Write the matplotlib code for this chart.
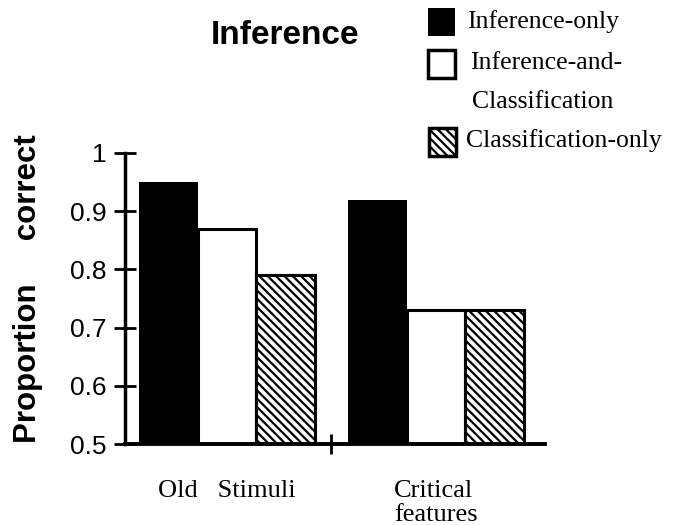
import matplotlib
matplotlib.use("Agg")
import matplotlib.pyplot as plt
from matplotlib.patches import Rectangle

# data
groups = ["Old   Stimuli", "Critical\nfeatures"]
conditions = ["Inference-only", "Inference-and-\nClassification", "Classification-only"]
inference_only = [0.95, 0.92]
inference_and_class = [0.87, 0.73]
classification_only = [0.79, 0.73]
yticks = [0.5, 0.6, 0.7, 0.8, 0.9, 1.0]
ytick_labels = ["0.5", "0.6", "0.7", "0.8", "0.9", "1"]

SANS = "Liberation Sans"
SERIF = "Liberation Serif"
plt.rcParams["hatch.linewidth"] = 1.6

fig = plt.figure(figsize=(6.85, 5.25), dpi=100)
ax = fig.add_axes([125 / 685, 1 - 444 / 525, 420 / 685, 291 / 525])

w = 0.28
x = range(len(groups))
series = [inference_only, inference_and_class, classification_only]
styles = [dict(color="black", edgecolor="black", linewidth=0),
          dict(color="white", edgecolor="black", linewidth=2.2),
          dict(color="white", edgecolor="black", linewidth=2.2, hatch="\\\\\\\\")]
for i, (vals, st) in enumerate(zip(series, styles)):
    pos = [g + (i - 1) * w for g in x]
    ax.bar(pos, [v - 0.5 for v in vals], width=w, bottom=0.5, **st)

ax.set_xlim(-0.488, 1.522)
ax.set_ylim(0.5, 1.0)
for s in ["top", "right"]:
    ax.spines[s].set_visible(False)
ax.spines["left"].set_linewidth(2.5)
ax.spines["bottom"].set_linewidth(2.8)

ax.set_yticks(yticks)
ax.set_yticklabels(ytick_labels, fontfamily=SANS, fontsize=19)
ax.tick_params(axis="y", direction="inout", length=16, width=2, pad=5)

ax.set_xticks(list(x))
ax.set_xticklabels(groups, fontfamily=SERIF, fontsize=19, linespacing=1.1)
for lab in ax.get_xticklabels():
    lab.set_multialignment("left")
ax.tick_params(axis="x", length=0, pad=26)
ax.set_xticks([0.5], minor=True)
ax.tick_params(axis="x", which="minor", direction="inout", length=14, width=2)

ax.set_ylabel("Proportion     correct", fontfamily=SANS, fontsize=22.5,
              fontweight="bold")
ax.yaxis.set_label_coords(-0.195, 0.535)

fig.text(285 / 685, 1 - 36 / 525, "Inference", ha="center", va="center",
         fontfamily=SANS, fontsize=24, fontweight="bold")

# legend drawn by hand so the wrapped label lines up like the original
boxes = [(428, 8, dict(facecolor="black", edgecolor="black", linewidth=0)),
         (428, 50, dict(facecolor="white", edgecolor="black", linewidth=2.5)),
         (429, 128, dict(facecolor="white", edgecolor="black", linewidth=2.5,
                         hatch="\\\\\\\\"))]
for bx, by, st in boxes:
    fig.add_artist(Rectangle((bx / 685, 1 - (by + 28) / 525), 27 / 685, 28 / 525,
                             transform=fig.transFigure, **st))
label_pos = [(467, 22), (470, 63), (466, 141)]
for (tx, ty), lab in zip(label_pos, conditions):
    lines = lab.split("\n")
    fig.text(tx / 685, 1 - ty / 525, lines[0], ha="left", va="center",
             fontfamily=SERIF, fontsize=18.5)
    if len(lines) > 1:
        fig.text(472 / 685, 1 - 102 / 525, lines[1], ha="left", va="center",
                 fontfamily=SERIF, fontsize=18.5)

fig.savefig("out.png", dpi=100)
